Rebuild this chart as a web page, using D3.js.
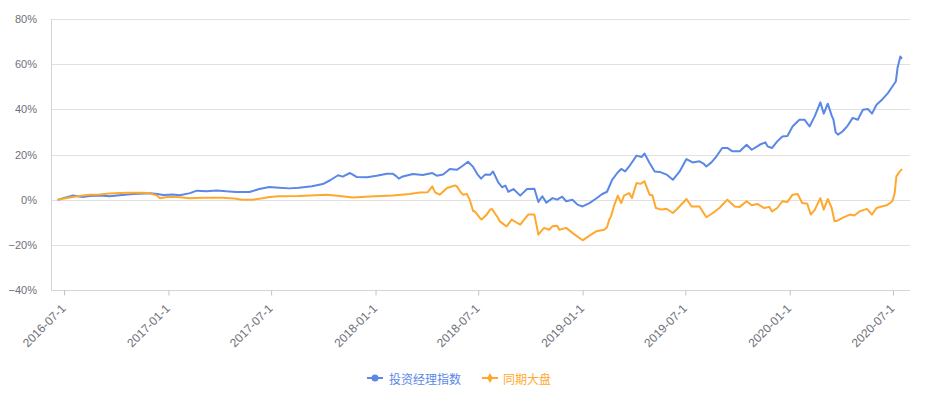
<!DOCTYPE html>
<html><head><meta charset="utf-8">
<script src="https://cdn.jsdelivr.net/npm/d3@7"></script>
<style>
html,body{margin:0;padding:0;background:#fff;}
svg{display:block;}
</style></head>
<body>
<svg id="chart" width="929" height="399"></svg>
<script>
const seriesNames = ["投资经理指数", "同期大盘"];
const seriesColors = ["#5b87e6", "#ffa82e"];
const yTicks = [-40, -20, 0, 20, 40, 60, 80];
const xTickDates = ["2016-07-01","2017-01-01","2017-07-01","2018-01-01","2018-07-01","2019-01-01","2019-07-01","2020-01-01","2020-07-01"];
const xTickLabels = ["2016-07-1","2017-01-1","2017-07-1","2018-01-1","2018-07-1","2019-01-1","2019-07-1","2020-01-1","2020-07-1"];

const managerDates = ["2016-06-21","2016-07-01","2016-07-11","2016-07-17","2016-07-25","2016-08-03","2016-08-15","2016-09-02","2016-09-19","2016-10-07","2016-10-30","2016-11-30","2016-12-12","2016-12-23","2017-01-09","2017-01-21","2017-02-08","2017-02-20","2017-03-09","2017-03-27","2017-04-13","2017-04-30","2017-05-24","2017-06-10","2017-06-28","2017-07-15","2017-08-02","2017-08-19","2017-09-11","2017-09-30","2017-10-13","2017-10-27","2017-11-04","2017-11-17","2017-11-22","2017-11-29","2017-12-17","2018-01-03","2018-01-21","2018-01-31","2018-02-07","2018-02-11","2018-02-18","2018-03-08","2018-03-25","2018-04-11","2018-04-19","2018-04-30","2018-05-12","2018-05-24","2018-06-02","2018-06-13","2018-06-22","2018-06-30","2018-07-06","2018-07-13","2018-07-22","2018-07-27","2018-08-05","2018-08-12","2018-08-18","2018-08-23","2018-09-01","2018-09-13","2018-09-25","2018-10-08","2018-10-15","2018-10-22","2018-10-29","2018-11-09","2018-11-17","2018-11-26","2018-12-03","2018-12-14","2018-12-23","2019-01-01","2019-01-13","2019-01-25","2019-02-04","2019-02-13","2019-02-22","2019-03-03","2019-03-10","2019-03-17","2019-03-24","2019-04-06","2019-04-15","2019-04-20","2019-04-29","2019-05-08","2019-05-17","2019-05-29","2019-06-09","2019-06-21","2019-07-03","2019-07-14","2019-07-26","2019-08-02","2019-08-07","2019-08-16","2019-08-25","2019-09-04","2019-09-13","2019-09-22","2019-10-05","2019-10-17","2019-10-26","2019-11-09","2019-11-19","2019-11-23","2019-11-26","2019-12-01","2019-12-10","2019-12-19","2019-12-28","2020-01-06","2020-01-18","2020-01-27","2020-02-05","2020-02-14","2020-02-24","2020-03-01","2020-03-08","2020-03-15","2020-03-18","2020-03-22","2020-03-26","2020-04-03","2020-04-12","2020-04-21","2020-04-30","2020-05-09","2020-05-18","2020-05-25","2020-06-02","2020-06-13","2020-06-22","2020-06-30","2020-07-06","2020-07-09","2020-07-14","2020-07-16"];
const managerValues = [0.0,0.8,1.4,1.9,1.5,1.2,1.6,1.8,1.5,2.0,2.5,2.8,2.5,2.1,2.3,2.0,2.9,4.0,3.7,4.1,3.7,3.4,3.4,4.7,5.6,5.3,5.0,5.3,5.9,6.9,8.6,10.8,10.2,11.8,11.1,10.0,9.9,10.6,11.5,11.5,10.3,9.3,10.3,11.4,10.9,11.8,10.6,11.1,13.6,13.2,14.7,16.8,14.5,11.1,9.3,11.1,11.0,12.5,7.8,5.5,6.2,3.5,4.7,1.8,4.7,4.8,-1.0,1.5,-1.3,0.7,0.0,1.3,-0.7,0.0,-2.2,-3.0,-1.5,0.5,2.4,3.5,8.8,11.8,13.6,12.5,14.7,19.5,18.9,20.4,16.2,12.5,12.3,11.1,8.8,12.5,18.0,16.5,17.0,16.0,14.7,16.5,19.2,22.9,22.9,21.4,21.4,24.3,22.1,24.3,25.4,23.6,23.3,22.9,25.8,28.0,28.2,32.4,35.4,35.4,32.4,36.9,43.1,38.1,42.5,37.2,35.5,29.8,28.8,30.2,32.7,36.2,35.4,39.8,40.1,38.1,42.0,44.6,47.2,50.1,52.3,58.3,63.4,62.7];

const marketDates = ["2016-06-21","2016-07-01","2016-07-11","2016-07-28","2016-08-15","2016-09-02","2016-09-19","2016-10-19","2016-11-17","2016-11-30","2016-12-12","2016-12-17","2016-12-29","2017-01-16","2017-02-08","2017-03-03","2017-04-06","2017-04-27","2017-05-11","2017-05-29","2017-06-16","2017-06-28","2017-07-15","2017-08-19","2017-10-07","2017-10-30","2017-11-22","2017-12-22","2018-01-31","2018-03-02","2018-03-20","2018-04-03","2018-04-11","2018-04-16","2018-04-24","2018-05-07","2018-05-21","2018-05-24","2018-05-30","2018-06-04","2018-06-11","2018-06-16","2018-06-22","2018-06-25","2018-07-04","2018-07-07","2018-07-16","2018-07-22","2018-07-25","2018-08-05","2018-08-08","2018-08-18","2018-08-20","2018-08-29","2018-09-13","2018-09-27","2018-10-08","2018-10-15","2018-10-25","2018-11-03","2018-11-09","2018-11-17","2018-11-21","2018-12-03","2018-12-14","2019-01-01","2019-01-13","2019-01-25","2019-02-08","2019-02-13","2019-02-17","2019-02-20","2019-02-25","2019-03-04","2019-03-10","2019-03-15","2019-03-24","2019-03-29","2019-04-06","2019-04-13","2019-04-20","2019-04-29","2019-05-04","2019-05-10","2019-05-20","2019-05-29","2019-06-09","2019-06-17","2019-07-03","2019-07-12","2019-07-26","2019-08-07","2019-08-18","2019-08-30","2019-09-13","2019-09-26","2019-10-05","2019-10-17","2019-10-26","2019-11-05","2019-11-17","2019-11-26","2019-12-01","2019-12-10","2019-12-19","2019-12-28","2020-01-06","2020-01-15","2020-01-23","2020-02-01","2020-02-07","2020-02-14","2020-02-24","2020-03-01","2020-03-08","2020-03-15","2020-03-20","2020-03-26","2020-04-03","2020-04-16","2020-04-24","2020-05-03","2020-05-16","2020-05-25","2020-06-02","2020-06-11","2020-06-20","2020-06-30","2020-07-04","2020-07-07","2020-07-13","2020-07-16"];
const marketValues = [0.0,0.5,1.0,1.6,2.2,2.3,2.7,3.1,3.1,2.8,1.8,0.6,1.2,1.2,0.6,0.9,0.9,0.5,0.0,0.0,0.6,1.2,1.5,1.6,2.2,1.6,1.0,1.4,1.8,2.5,3.2,3.3,5.9,3.2,2.2,5.2,6.3,6.0,3.7,2.2,2.5,0.0,-5.0,-5.2,-8.1,-8.8,-6.6,-4.4,-4.1,-8.1,-9.6,-11.5,-11.8,-8.8,-11.1,-6.6,-6.6,-15.5,-12.5,-13.3,-11.8,-11.5,-13.3,-12.5,-14.7,-18.0,-15.9,-14.0,-13.3,-12.2,-8.8,-7.4,-3.0,1.8,-1.5,1.8,2.9,0.7,7.4,7.0,8.1,2.2,2.0,-3.7,-4.4,-4.0,-5.9,-4.0,0.3,-3.0,-3.0,-7.8,-6.0,-3.7,0.0,-3.0,-3.2,-0.7,-2.5,-1.9,-3.7,-3.2,-5.2,-3.7,-0.7,-1.0,2.2,2.5,-1.5,-1.8,-6.6,-4.5,0.7,-4.4,0.3,-3.7,-9.6,-9.2,-8.1,-6.6,-7.0,-5.2,-4.1,-6.6,-3.7,-3.0,-2.5,-0.7,2.9,10.3,12.5,13.3];

const parse = d3.timeParse("%Y-%m-%d");
const series = [
  {name: seriesNames[0], color: seriesColors[0], data: managerDates.map((d,i)=>({date: parse(d), value: managerValues[i]}))},
  {name: seriesNames[1], color: seriesColors[1], data: marketDates.map((d,i)=>({date: parse(d), value: marketValues[i]}))}
];

const svg = d3.select("#chart");
const pLeft = 51, pRight = 910, pTop = 19, pBottom = 290;

const x = d3.scaleTime().domain([parse("2016-06-08"), parse("2020-07-31")]).range([pLeft, pRight]);
const y = d3.scaleLinear().domain([-40, 80]).range([pBottom, pTop]);

// gridlines
svg.append("g").selectAll("line").data(yTicks.filter(t => t !== -40)).join("line")
  .attr("x1", pLeft).attr("x2", pRight)
  .attr("y1", d => Math.round(y(d)) + 0.5).attr("y2", d => Math.round(y(d)) + 0.5)
  .attr("stroke", "#e0e0e0").attr("stroke-width", 1);

// y axis line
svg.append("line").attr("x1", pLeft + 0.5).attr("x2", pLeft + 0.5).attr("y1", pTop).attr("y2", pBottom)
  .attr("stroke", "#d4d4d4");

// y labels
svg.append("g").selectAll("text").data(yTicks).join("text")
  .attr("x", 37).attr("y", d => y(d))
  .attr("text-anchor", "end").attr("dominant-baseline", "central")
  .attr("font-family", "Liberation Sans, Arial, sans-serif").attr("font-size", 11)
  .attr("fill", "#6e7079")
  .text(d => (d < 0 ? "\u2212" + Math.abs(d) : d) + "%");

// x axis
const xAxis = d3.axisBottom(x).tickValues(xTickDates.map(parse)).tickSize(5).tickFormat((d,i) => xTickLabels[i]);
const gx = svg.append("g").attr("transform", `translate(0,${pBottom + 0.5})`).call(xAxis);
gx.select(".domain").attr("stroke", "#d4d4d4").attr("d", `M${pLeft},0H${pRight}`);
gx.selectAll(".tick line").attr("stroke", "#b9c3d3");
gx.selectAll(".tick text")
  .attr("font-family", "Liberation Sans, Arial, sans-serif").attr("font-size", 12)
  .attr("fill", "#6e7079")
  .attr("text-anchor", "end").attr("dy", null).attr("y", 0)
  .attr("transform", "translate(-1,16) rotate(-45)")
  .attr("dominant-baseline", "central");

// lines
const line = d3.line().x(d => x(d.date)).y(d => y(d.value));
svg.append("g").selectAll("path").data(series).join("path")
  .attr("d", d => line(d.data))
  .attr("fill", "none").attr("stroke", d => d.color)
  .attr("stroke-width", 2).attr("stroke-linejoin", "round").attr("stroke-linecap", "round");

// legend
const legend = svg.append("g");
const legendItems = [{x: 367, tx: 389}, {x: 482, tx: 503}];
series.forEach((s, i) => {
  const g = legend.append("g");
  const lx = legendItems[i].x, ly = 378;
  g.append("line").attr("x1", lx).attr("x2", lx + 16).attr("y1", ly).attr("y2", ly)
    .attr("stroke", s.color).attr("stroke-width", 2);
  if (i === 0) {
    g.append("circle").attr("cx", lx + 8).attr("cy", ly).attr("r", 3.5)
      .attr("fill", s.color);
  } else {
    g.append("path").attr("d", d3.symbol(d3.symbolDiamond, 30)()).attr("transform", `translate(${lx+8},${ly})`)
      .attr("fill", s.color);
  }
  g.append("text").attr("x", legendItems[i].tx).attr("y", ly)
    .attr("dominant-baseline", "central")
    .attr("font-family", "Noto Sans CJK SC, sans-serif").attr("font-size", 12)
    .attr("fill", s.color).text(s.name);
});
</script>
</body></html>
